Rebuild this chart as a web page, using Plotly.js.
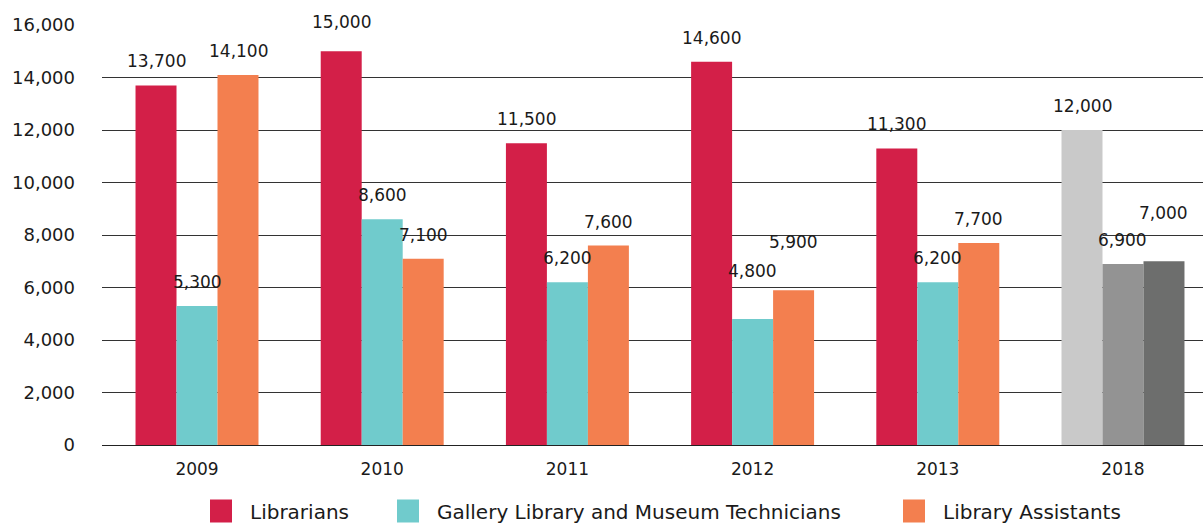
<!DOCTYPE html>
<html>
<head>
<meta charset="utf-8">
<script src="https://cdn.plot.ly/plotly-3.0.1.min.js"></script>
<style>html,body{margin:0;padding:0;background:#fff;}#chart{width:1203px;height:524px;}</style>
</head>
<body>
<div id="chart"></div>
<script>
// ---- data ----
var years = ['2009', '2010', '2011', '2012', '2013', '2018'];
var seriesNames = ['Librarians', 'Gallery Library and Museum Technicians', 'Library Assistants'];
var librarians = [13700, 15000, 11500, 14600, 11300, 12000];
var technicians = [5300, 8600, 6200, 4800, 6200, 6900];
var assistants = [14100, 7100, 7600, 5900, 7700, 7000];
var yTicks = [0, 2000, 4000, 6000, 8000, 10000, 12000, 14000, 16000];

// ---- style ----
var baseColors = ['#D31F48', '#70CBCC', '#F37F4F'];
var colors2018 = ['#C9C9C9', '#939393', '#6D6E6D'];
// extra lift (px) for a few labels that sit higher in the original
var extraLift = [
  [0, 5, 0, 0, 0, 0],
  [0, 0, 0, 24, 0, 0],
  [0, 0, 0, 24, 0, 24]
];
var legendLeft = [210, 397, 903]; // px in container
var FONT = 'DejaVu Sans, sans-serif';
var bargap = 0.336;
var barW = (1 - bargap) / 3;
var W = 1203, H = 524;

var allSeries = [librarians, technicians, assistants];
var legendIds = ['legend', 'legend2', 'legend3'];
var traces = allSeries.map(function (vals, k) {
  var cols = years.map(function (y) { return y === '2018' ? colors2018[k] : baseColors[k]; });
  return {
    type: 'bar',
    name: seriesNames[k],
    legend: legendIds[k],
    x: years,
    y: vals,
    marker: { color: cols },
    hoverinfo: 'x+y+name'
  };
});

var annotations = [];
allSeries.forEach(function (vals, k) {
  vals.forEach(function (v, i) {
    annotations.push({
      x: i + (k - 1) * barW,
      y: v,
      xref: 'x', yref: 'y',
      text: v.toLocaleString('en-US'),
      showarrow: false,
      yanchor: 'bottom',
      yshift: 12 + extraLift[k][i],
      font: { family: FONT, size: 17, color: '#1a1a1a' }
    });
  });
});

var layout = {
  width: W, height: H,
  margin: { l: 102, r: 0, t: 25, b: 79, autoexpand: false },
  paper_bgcolor: '#fff', plot_bgcolor: '#fff',
  barmode: 'group',
  bargap: bargap,
  bargroupgap: 0,
  font: { family: FONT, size: 17, color: '#1a1a1a' },
  xaxis: {
    type: 'category',
    range: [-0.513, 5.432],
    showgrid: false,
    showline: false,
    ticks: '',
    ticklabelstandoff: 12,
    tickfont: { family: FONT, size: 17, color: '#1a1a1a' }
  },
  yaxis: {
    range: [0, 16000],
    tickvals: yTicks,
    ticktext: yTicks.map(function (t) { return t.toLocaleString('en-US'); }),
    showgrid: true,
    gridcolor: '#333',
    gridwidth: 1,
    zeroline: true,
    zerolinecolor: '#222',
    zerolinewidth: 1,
    showline: false,
    ticks: '',
    ticklabelstandoff: 26,
    tickfont: { family: FONT, size: 18, color: '#1a1a1a' }
  },
  showlegend: true,
  annotations: annotations
};
legendIds.forEach(function (id, k) {
  layout[id] = {
    orientation: 'h',
    xref: 'container', yref: 'container',
    x: legendLeft[k] / W, xanchor: 'left',
    y: 13 / H, yanchor: 'middle',
    font: { family: FONT, size: 20, color: '#1a1a1a' },
    itemwidth: 30,
    bgcolor: 'rgba(0,0,0,0)'
  };
});

function tweakLegend(gd) {
  // larger square swatch, nudged left so the label gap matches the original
  gd.querySelectorAll('.legendpoints path').forEach(function (p) {
    p.setAttribute('d', 'M2,11.5H-21V-11.5H2Z');
  });
}

Plotly.newPlot('chart', traces, layout, { displayModeBar: false, staticPlot: true }).then(function (gd) {
  tweakLegend(gd);
});
</script>
</body>
</html>
